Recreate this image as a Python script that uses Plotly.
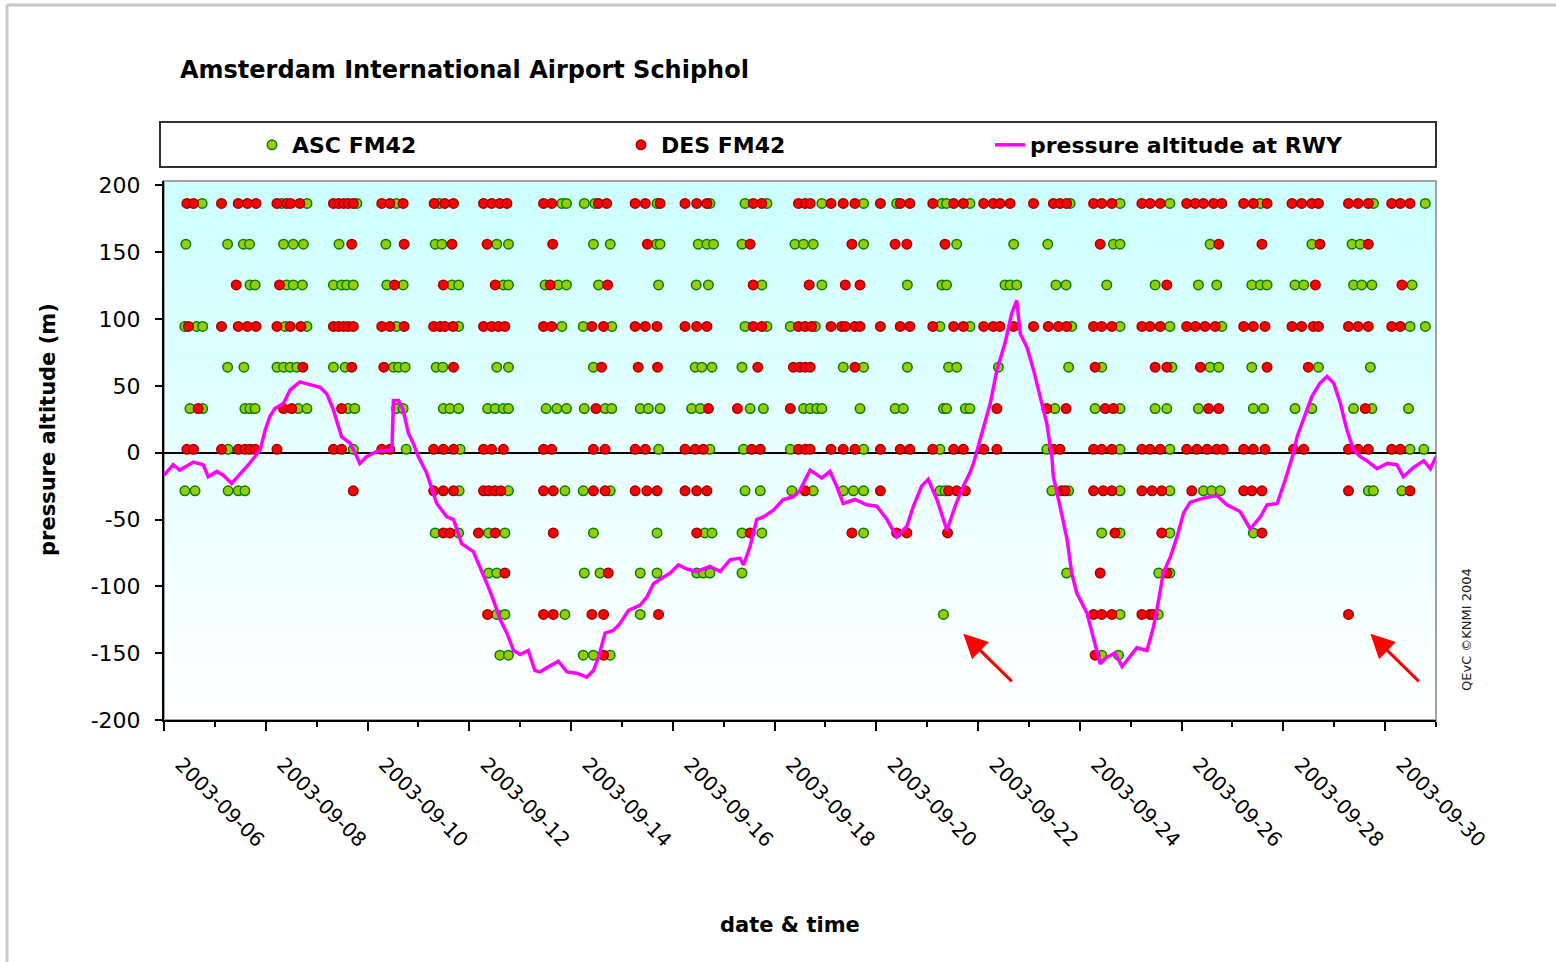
import plotly.graph_objects as go
import pandas as pd

# ---------------- data ----------------
start_date = "2003-09-06"
end_date = "2003-10-01"

# observed report altitudes (m) of the FM42 rows, top to bottom
levels = [186.5, 156.0, 125.5, 94.5, 64.0, 33.0, 2.5, -28.5, -60.0, -90.0, -121.0, -151.5]

# times of the reports, in days since 2003-09-06 00:00
asc_r1 = [0.75, 2.31, 2.81, 3.79, 4.57, 5.41, 7.82, 7.91, 8.26, 8.47, 9.69, 10.73, 11.42, 11.85, 12.93, 13.75,
          14.40, 15.29, 15.38, 15.84, 17.81, 18.79, 19.77, 21.55, 23.77, 24.79]
des_r1 = [0.45, 0.58, 1.13, 1.46, 1.64, 1.81, 2.22, 2.41, 2.49, 2.67, 3.33, 3.43, 3.53, 3.62, 3.72, 4.28, 4.44,
          4.70, 5.31, 5.52, 5.69, 6.28, 6.44, 6.60, 6.74, 7.46, 7.62, 8.54, 8.70, 9.26, 9.46, 9.75, 10.24, 10.47,
          10.67, 11.58, 11.75, 12.47, 12.60, 12.70, 13.11, 13.35, 13.58, 14.08, 14.47, 14.66, 15.11, 15.52, 15.71,
          16.11, 16.30, 16.43, 16.63, 17.09, 17.48, 17.61, 17.74, 18.27, 18.43, 18.63, 19.22, 19.38, 19.58, 20.10,
          20.27, 20.43, 20.63, 20.79, 21.22, 21.41, 21.68, 22.17, 22.36, 22.56, 22.69, 23.28, 23.47, 23.67, 24.13,
          24.30, 24.49]

asc_r2 = [0.43, 1.25, 1.56, 1.68, 2.35, 2.54, 2.74, 3.44, 4.36, 5.33, 5.46, 6.54, 6.77, 8.44, 8.77, 9.68, 9.75,
          10.50, 10.67, 10.80, 11.36, 12.40, 12.57, 12.76, 13.75, 15.58, 16.70, 17.37, 18.66, 18.79, 20.56, 22.56,
          23.35, 23.51]
des_r2 = [3.69, 4.72, 5.66, 6.35, 7.64, 9.50, 11.52, 13.52, 14.37, 14.60, 15.35, 18.40, 20.73, 21.58, 22.72, 23.67]

asc_r3 = [1.69, 1.79, 2.41, 2.54, 2.72, 3.33, 3.49, 3.59, 3.72, 4.38, 4.70, 5.66, 5.79, 6.67, 6.77, 7.49, 7.75,
          7.91, 8.54, 9.72, 10.46, 10.70, 11.75, 12.93, 14.61, 15.29, 15.38, 16.53, 16.63, 16.76, 17.53, 17.73,
          18.53, 19.48, 20.33, 20.69, 21.38, 21.55, 21.68, 22.23, 22.40, 23.38, 23.54, 23.74, 24.53]
des_r3 = [1.42, 2.27, 4.53, 5.49, 6.51, 7.59, 8.72, 11.58, 12.68, 13.39, 13.68, 19.71, 22.63, 24.33]

asc_r4 = [0.41, 0.64, 0.76, 2.38, 2.81, 4.57, 5.79, 7.82, 8.24, 8.80, 11.42, 11.85, 12.31, 12.80, 15.25, 15.84,
          17.84, 18.79, 19.77, 20.79, 24.49, 24.79]
des_r4 = [0.48, 1.13, 1.46, 1.64, 1.81, 2.22, 2.48, 2.69, 3.33, 3.43, 3.53, 3.62, 3.72, 4.28, 4.44, 4.72, 5.30,
          5.43, 5.52, 5.68, 6.28, 6.44, 6.57, 6.70, 7.46, 7.62, 8.41, 8.64, 9.26, 9.46, 9.69, 10.24, 10.47, 10.67,
          11.58, 11.75, 12.47, 12.60, 12.73, 13.11, 13.32, 13.39, 13.58, 13.68, 14.08, 14.47, 14.66, 15.11, 15.52,
          15.71, 16.11, 16.30, 16.43, 16.70, 17.09, 17.38, 17.58, 17.74, 18.27, 18.43, 18.63, 19.22, 19.38, 19.58,
          20.10, 20.27, 20.46, 20.66, 21.22, 21.41, 21.64, 22.17, 22.36, 22.59, 22.69, 23.28, 23.47, 23.67, 24.13,
          24.30]

asc_r5 = [1.25, 1.57, 2.22, 2.35, 2.48, 2.61, 3.33, 3.56, 4.51, 4.61, 4.74, 5.35, 5.48, 6.54, 6.77, 8.44, 10.44,
          10.57, 10.77, 11.36, 13.35, 13.75, 14.61, 15.42, 15.58, 16.40, 17.78, 18.43, 19.81, 20.56, 20.73, 21.38,
          22.69, 23.71]
des_r5 = [2.73, 3.69, 4.32, 5.69, 8.60, 9.32, 9.70, 11.67, 12.37, 12.50, 12.60, 12.70, 13.58, 18.30, 19.48, 19.71,
          20.37, 21.68, 22.49]

asc_r6 = [0.51, 0.76, 1.59, 1.69, 1.79, 2.64, 2.81, 3.62, 3.75, 4.57, 4.70, 5.49, 5.62, 5.79, 6.36, 6.51, 6.67,
          6.77, 7.51, 7.72, 7.91, 8.26, 8.67, 8.80, 9.36, 9.52, 9.75, 10.37, 10.54, 11.52, 11.78, 12.57, 12.70, 12.83,
          12.93, 13.68, 14.37, 14.53, 15.32, 15.38, 15.75, 15.84, 17.51, 18.30, 18.79, 19.48, 19.71, 20.33, 21.41,
          21.61, 22.23, 22.56, 23.38, 23.74, 24.46]
des_r6 = [0.67, 2.35, 2.51, 3.49, 8.49, 10.70, 11.27, 12.31, 16.37, 17.35, 17.73, 18.50, 18.66, 20.53, 20.73, 23.61]

asc_r7 = [1.26, 3.72, 4.76, 5.82, 9.72, 10.73, 11.39, 12.31, 13.75, 15.25, 17.35, 18.79, 19.77, 24.49, 24.76]
des_r7 = [0.45, 0.58, 1.13, 1.46, 1.59, 1.69, 1.79, 2.22, 3.33, 3.49, 4.28, 4.44, 5.30, 5.49, 5.69, 6.28, 6.44,
          6.67, 7.46, 7.62, 8.44, 8.67, 9.26, 9.46, 10.24, 10.44, 10.60, 11.55, 11.72, 12.47, 12.60, 12.70, 13.11,
          13.35, 13.58, 14.08, 14.47, 14.66, 15.11, 15.52, 15.71, 16.11, 16.37, 17.48, 17.61, 18.27, 18.43, 18.63,
          19.22, 19.38, 19.58, 20.10, 20.30, 20.50, 20.69, 20.82, 21.22, 21.41, 21.64, 22.20, 22.40, 23.28, 23.47,
          23.67, 24.13, 24.30]

asc_r8 = [0.41, 0.61, 1.26, 1.46, 1.59, 5.80, 6.77, 7.88, 8.24, 8.77, 11.42, 11.72, 12.34, 12.76, 13.35, 13.55,
          13.75, 15.25, 15.35, 17.45, 17.78, 18.79, 19.77, 20.43, 20.59, 20.76, 23.67, 23.77, 24.33]
des_r8 = [3.72, 5.30, 5.49, 5.69, 6.28, 6.38, 6.50, 6.62, 7.46, 7.65, 8.44, 8.67, 9.26, 9.49, 9.69, 10.24, 10.47,
          10.67, 12.60, 14.08, 15.42, 15.58, 15.75, 17.64, 17.71, 18.27, 18.46, 18.63, 19.22, 19.42, 19.61, 20.20,
          21.22, 21.38, 21.58, 23.28, 24.49]

asc_r9 = [5.33, 5.79, 6.38, 6.70, 8.44, 9.69, 10.63, 10.77, 11.36, 11.75, 13.75, 18.43, 18.79, 19.77, 21.41]
des_r9 = [5.49, 5.62, 6.18, 6.51, 7.65, 10.47, 11.52, 13.52, 14.40, 14.60, 15.40, 18.69, 19.61, 21.58]

asc_r10 = [6.38, 6.54, 8.26, 8.57, 9.36, 9.69, 10.47, 10.60, 10.73, 11.36, 17.74, 19.55, 19.77]
des_r10 = [6.70, 8.73, 18.40, 19.71]

asc_r11 = [6.54, 6.70, 7.88, 9.36, 15.32, 18.79, 19.54]
des_r11 = [6.36, 7.46, 7.65, 8.41, 8.64, 9.72, 18.27, 18.43, 18.63, 19.22, 19.38, 19.44, 23.28]

asc_r12 = [6.60, 6.77, 8.24, 8.44, 8.77, 18.43, 18.76]
des_r12 = [8.64, 18.30]

# pressure altitude at runway (m), days since 2003-09-06 00:00
line_days = [0.00, 0.18, 0.31, 0.58, 0.77, 0.87, 1.04, 1.17, 1.33, 1.53, 1.66, 1.89, 1.99, 2.08, 2.18, 2.35, 2.48,
             2.67, 2.87, 3.07, 3.20, 3.33, 3.49, 3.66, 3.79, 3.85, 3.98, 4.18, 4.48, 4.51, 4.61, 4.70, 4.80, 4.90,
             5.00, 5.16, 5.36, 5.56, 5.69, 5.85, 6.08, 6.21, 6.37, 6.47, 6.61, 6.74, 6.87, 7.00, 7.16, 7.29, 7.39,
             7.52, 7.75, 7.92, 8.11, 8.31, 8.44, 8.54, 8.67, 8.83, 8.96, 9.13, 9.36, 9.49, 9.62, 9.78, 9.95, 10.11,
             10.28, 10.47, 10.73, 10.93, 11.13, 11.32, 11.39, 11.52, 11.65, 11.78, 11.98, 12.17, 12.37, 12.50, 12.67,
             12.70, 12.93, 13.09, 13.22, 13.35, 13.58, 13.81, 14.01, 14.21, 14.40, 14.60, 14.73, 14.89, 15.02, 15.19,
             15.39, 15.55, 15.71, 15.84, 15.91, 16.07, 16.24, 16.37, 16.53, 16.66, 16.76, 16.83, 16.96, 17.09, 17.22,
             17.35, 17.45, 17.48, 17.61, 17.75, 17.84, 17.94, 18.14, 18.27, 18.40, 18.53, 18.69, 18.83, 18.96, 19.12,
             19.32, 19.45, 19.55, 19.64, 19.78, 19.91, 20.04, 20.17, 20.43, 20.69, 20.89, 21.15, 21.35, 21.55, 21.68,
             21.88, 22.04, 22.20, 22.27, 22.46, 22.56, 22.72, 22.86, 22.99, 23.12, 23.25, 23.38, 23.51, 23.64, 23.84,
             24.04, 24.23, 24.36, 24.56, 24.76, 24.89, 25.00]
line_alt = [-17, -9, -13, -7, -9, -18, -14, -17, -23, -15, -9, 2, 17, 27, 33, 37, 47,
            53, 51, 49, 44, 32, 12, 7, -3, -8, -3, 1, 2, 39, 39, 32, 15, 7,
            -3, -15, -38, -48, -50, -68, -74, -85, -100, -110, -125, -135, -148, -151, -148, -163, -164,
            -161, -156, -164, -165, -168, -163, -153, -135, -133, -128, -118, -114, -108, -98, -94, -90, -84,
            -87, -89, -85, -89, -80, -79, -84, -70, -50, -48, -43, -35, -33, -28, -14,
            -13, -19, -14, -25, -38, -35, -39, -40, -50, -63, -55, -40, -25, -20, -35,
            -58, -40, -25, -15, -8, 15, 37, 62, 82, 104, 114, 89, 79, 62, 42,
            22, -3, -18, -40, -65, -90, -105, -120, -138, -158, -153, -150, -160, -154, -146,
            -148, -130, -110, -90, -78, -63, -45, -37, -34, -32, -39, -44, -57, -48, -39,
            -38, -20, 0, 12, 32, 42, 52, 57, 52, 37, 17, 2, -3, -6, -12,
            -8, -9, -18, -11, -6, -12, -3]

y_tickvals = [-200, -150, -100, -50, 0, 50, 100, 150, 200]
y_ticktext = ["-200", "-150", "-100", "-50", "0", "50", "100", "150", "200"]

# ---------------- build ----------------
base = pd.Timestamp(start_date)


def to_time(days):
    return [base + pd.Timedelta(days=d) for d in days]


asc_rows = [asc_r1, asc_r2, asc_r3, asc_r4, asc_r5, asc_r6, asc_r7, asc_r8, asc_r9, asc_r10, asc_r11, asc_r12]
des_rows = [des_r1, des_r2, des_r3, des_r4, des_r5, des_r6, des_r7, des_r8, des_r9, des_r10, des_r11, des_r12]

asc_x, asc_y, des_x, des_y = [], [], [], []
for lvl, a, d in zip(levels, asc_rows, des_rows):
    asc_x += to_time(a)
    asc_y += [lvl] * len(a)
    des_x += to_time(d)
    des_y += [lvl] * len(d)

FONT = "DejaVu Sans"

fig = go.Figure()
fig.add_trace(go.Scatter(
    x=asc_x, y=asc_y, mode="markers", name="ASC FM42",
    marker=dict(size=9.5, color="#99cc00", line=dict(color="#008000", width=1.5)),
))
fig.add_trace(go.Scatter(
    x=des_x, y=des_y, mode="markers", name="DES FM42",
    marker=dict(size=9.5, color="#ff0000", line=dict(color="#a00000", width=1.5)),
))
fig.add_trace(go.Scatter(
    x=to_time(line_days), y=line_alt, mode="lines", name="pressure altitude at RWY",
    line=dict(color="#ff00ff", width=3.5),
))

# plot-area px geometry
L, R, T, B = 164, 1436, 181, 720
W, H = 1556, 962
PW, PH = R - L, B - T


def px(xpix):
    return (xpix - L) / PW


def py(ypix):
    return (B - ypix) / PH


shapes = []
# gradient background in plot area
nb = 60
for i in range(nb):
    f = i / (nb - 1)
    r = int(round(204 + (255 - 204) * f))
    shapes.append(dict(type="rect", xref="x domain", yref="y domain", x0=0, x1=1,
                       y0=1 - (i + 1) / nb, y1=1 - i / nb, layer="below",
                       fillcolor=f"rgb({r},255,255)", line=dict(width=0)))
# plot-area border (gray)
shapes.append(dict(type="rect", xref="x domain", yref="y domain", x0=0, x1=1, y0=0, y1=1,
                   layer="below", line=dict(color="#a0a0a0", width=2), fillcolor="rgba(0,0,0,0)"))
# legend box
shapes.append(dict(type="rect", xref="paper", yref="paper", x0=px(160), x1=px(1436), y0=py(167), y1=py(122),
                   line=dict(color="#303030", width=2), fillcolor="white", layer="below"))
# outer chart frame (left and top)
shapes.append(dict(type="line", xref="paper", yref="paper", x0=px(7), x1=px(7), y0=py(5), y1=py(962),
                   line=dict(color="#c8c8c8", width=3)))
shapes.append(dict(type="line", xref="paper", yref="paper", x0=px(7), x1=px(1556), y0=py(5), y1=py(5),
                   line=dict(color="#c8c8c8", width=3)))

annotations = [
    dict(text="date &amp; time", xref="paper", yref="paper", x=px(790), y=py(925), showarrow=False,
         font=dict(family=FONT, size=21, color="black", weight="bold"), xanchor="center", yanchor="middle"),
    dict(text="pressure altitude (m)", xref="paper", yref="paper", x=px(48), y=py(430), showarrow=False,
         textangle=-90, font=dict(family=FONT, size=21, color="black", weight="bold"),
         xanchor="center", yanchor="middle"),
    dict(text="QEvC ©KNMI 2004", xref="paper", yref="paper", x=px(1466), y=py(630), showarrow=False,
         textangle=-90, font=dict(family=FONT, size=13, color="#222"), xanchor="center", yanchor="middle"),
    # red arrows pointing at the outliers
    dict(x=base + pd.Timedelta(days=15.71), y=-135.5, xref="x", yref="y", text="", showarrow=True,
         ax=50, ay=49, arrowhead=2, arrowsize=1.6, arrowwidth=3, arrowcolor="#ff0000"),
    dict(x=base + pd.Timedelta(days=23.71), y=-135.5, xref="x", yref="y", text="", showarrow=True,
         ax=50, ay=49, arrowhead=2, arrowsize=1.6, arrowwidth=3, arrowcolor="#ff0000"),
]

fig.update_layout(
    width=W, height=H,
    margin=dict(l=L, r=W - R, t=T, b=H - B, pad=0),
    paper_bgcolor="white", plot_bgcolor="white",
    font=dict(family=FONT, color="black"),
    title=dict(text="Amsterdam International Airport Schiphol", xref="container", yref="container",
               x=180 / W, y=1 - 70 / H, xanchor="left", yanchor="middle",
               font=dict(family=FONT, size=24, color="black", weight="bold")),
    showlegend=True,
    legend=dict(orientation="h", x=px(252), y=py(145), xanchor="left", yanchor="middle",
                bgcolor="rgba(0,0,0,0)", borderwidth=0, entrywidth=324, entrywidthmode="pixels",
                font=dict(family=FONT, size=22, color="black", weight="bold")),
    shapes=shapes,
    annotations=annotations,
)

fig.update_xaxes(
    type="date", range=[start_date, end_date],
    tick0=start_date, dtick=2 * 86400000, tickformat="%Y-%m-%d",
    ticks="outside", ticklen=9, tickwidth=2, tickcolor="black",
    minor=dict(dtick=86400000, ticks="outside", ticklen=5, tickwidth=2, tickcolor="black", showgrid=False),
    tickangle=45, tickfont=dict(family=FONT, size=20, color="black"),
    ticklabelstandoff=14, ticklabelshift=17,
    showline=True, linecolor="black", linewidth=2,
    showgrid=False, zeroline=False,
)
fig.update_yaxes(
    range=[-200, 203.3], tickvals=y_tickvals, ticktext=y_ticktext,
    ticks="outside", ticklen=7, tickwidth=2, tickcolor="black",
    tickfont=dict(family=FONT, size=22, color="black"),
    ticklabelstandoff=10,
    showline=True, linecolor="black", linewidth=2,
    showgrid=False, zeroline=True, zerolinecolor="black", zerolinewidth=1.5,
)

fig.write_html("out.html", config={"displayModeBar": False},
               post_script="document.body.style.margin='0';document.body.style.overflow='hidden';")
